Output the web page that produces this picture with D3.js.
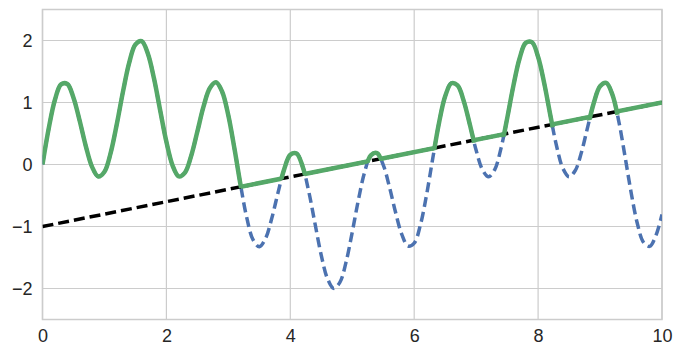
<!DOCTYPE html>
<html><head><meta charset="utf-8">
<script src="https://cdn.jsdelivr.net/npm/d3@7"></script>
<style>body{margin:0;background:#fff}</style>
</head><body>
<svg id="c" width="682" height="356"></svg>
<script>
// sampled x values (0 to 10, step 0.1)
const xs = d3.range(0, 101).map(i => +(i * 0.1).toFixed(1));
// curve values
const curveY = [
 0.000, 0.579, 1.040, 1.293, 1.299, 1.078, 0.706, 0.293,-0.039,-0.194,
-0.117, 0.186, 0.653, 1.179, 1.642, 1.936, 1.989, 1.790, 1.386, 0.871,
 0.365,-0.017,-0.192,-0.130, 0.139, 0.532, 0.936, 1.231, 1.326, 1.174,
 0.791, 0.248,-0.346,-0.870,-1.217,-1.326,-1.194,-0.872,-0.462,-0.082,
 0.156, 0.179,-0.035,-0.445,-0.960,-1.465,-1.840,-1.998,-1.902,-1.574,
-1.091,-0.567,-0.121, 0.147, 0.184,-0.006,-0.360,-0.775,-1.128,-1.315,
-1.267,-0.975,-0.487, 0.101, 0.668, 1.099, 1.311, 1.276, 1.023, 0.636,
 0.229,-0.080,-0.198,-0.082, 0.255, 0.740, 1.264, 1.706, 1.962, 1.973,
 1.735, 1.304, 0.782, 0.290,-0.062,-0.198,-0.097, 0.199, 0.603, 0.996,
 1.263, 1.318, 1.125, 0.709, 0.148,-0.443,-0.943,-1.253,-1.320,-1.150,
-0.806];
// straight reference line endpoints
const lineX = [0, 10];
const lineY = [-1, 1];
const xTicks = [0, 2, 4, 6, 8, 10];
const yTicks = [-2, -1, 0, 1, 2];

const svg = d3.select("#c");
const L = 42.5, R = 662, T = 9.5, B = 319.5;
const x = d3.scaleLinear().domain([0, 10]).range([L, R]);
const y = d3.scaleLinear().domain([-2.5, 2.5]).range([B, T]);
const grid = "#cccccc";
const font = "'Liberation Sans', Arial, sans-serif";

// grid
svg.append("g").selectAll("line").data(xTicks).join("line")
  .attr("x1", d => x(d)).attr("x2", d => x(d)).attr("y1", T).attr("y2", B)
  .attr("stroke", grid).attr("stroke-width", 1.2);
svg.append("g").selectAll("line").data(yTicks).join("line")
  .attr("x1", L).attr("x2", R).attr("y1", d => y(d)).attr("y2", d => y(d))
  .attr("stroke", grid).attr("stroke-width", 1.2);
svg.append("rect").attr("x", L).attr("y", T).attr("width", R - L).attr("height", B - T)
  .attr("fill", "none").attr("stroke", grid).attr("stroke-width", 1.5);

// axes labels via d3 axes
const fmt = d => (d < 0 ? "\u2212" + Math.abs(d) : "" + d);
const gx = svg.append("g").attr("transform", `translate(0,${B})`)
  .call(d3.axisBottom(x).tickValues(xTicks).tickFormat(fmt).tickSize(0).tickPadding(10));
const gy = svg.append("g").attr("transform", `translate(${L},0)`)
  .call(d3.axisLeft(y).tickValues(yTicks).tickFormat(fmt).tickSize(0).tickPadding(10));
[gx, gy].forEach(g => {
  g.select(".domain").remove();
  g.selectAll("text").attr("font-family", font).attr("font-size", 18).attr("fill", "#262626");
});

const pts = xs.map((d, i) => [d, curveY[i]]);
const curveGen = d3.line().x(d => x(d[0])).y(d => y(d[1])).curve(d3.curveCatmullRom.alpha(0.5));
const linePts = lineX.map((d, i) => [d, lineY[i]]);
const straight = d3.line().x(d => x(d[0])).y(d => y(d[1]));

const defs = svg.append("defs");
defs.append("clipPath").attr("id", "plot").append("rect")
  .attr("x", L).attr("y", T).attr("width", R - L).attr("height", B - T);
// region above the line (slightly extended)
defs.append("clipPath").attr("id", "aboveLine").append("path")
  .attr("d", `M${x(lineX[0]) - 10},${y(lineY[0]) + 1.8}L${x(lineX[1]) + 10},${y(lineY[1]) + 1.8}L${x(lineX[1]) + 10},${T - 20}L${x(lineX[0]) - 10},${T - 20}Z`);
// region above the curve (slightly extended)
const areaAbove = d3.area().x(d => x(d[0])).y0(T - 20).y1(d => y(d[1]) + 1.8)
  .curve(d3.curveCatmullRom.alpha(0.5));
defs.append("clipPath").attr("id", "aboveCurve").append("path").attr("d", areaAbove(pts));

const g = svg.append("g").attr("clip-path", "url(#plot)");
g.append("path").attr("d", curveGen(pts)).attr("fill", "none")
  .attr("stroke", "#4C72B0").attr("stroke-width", 3.5).attr("stroke-dasharray", "10,5");
g.append("path").attr("d", straight(linePts))
  .attr("fill", "none").attr("stroke", "#000").attr("stroke-width", 3.5).attr("stroke-dasharray", "11,5");
g.append("path").attr("d", curveGen(pts)).attr("fill", "none")
  .attr("stroke", "#55A868").attr("stroke-width", 4.5).attr("stroke-linejoin", "round")
  .attr("clip-path", "url(#aboveLine)");
g.append("path").attr("d", straight(linePts))
  .attr("fill", "none").attr("stroke", "#55A868").attr("stroke-width", 4.5)
  .attr("clip-path", "url(#aboveCurve)");
</script>
</body></html>
